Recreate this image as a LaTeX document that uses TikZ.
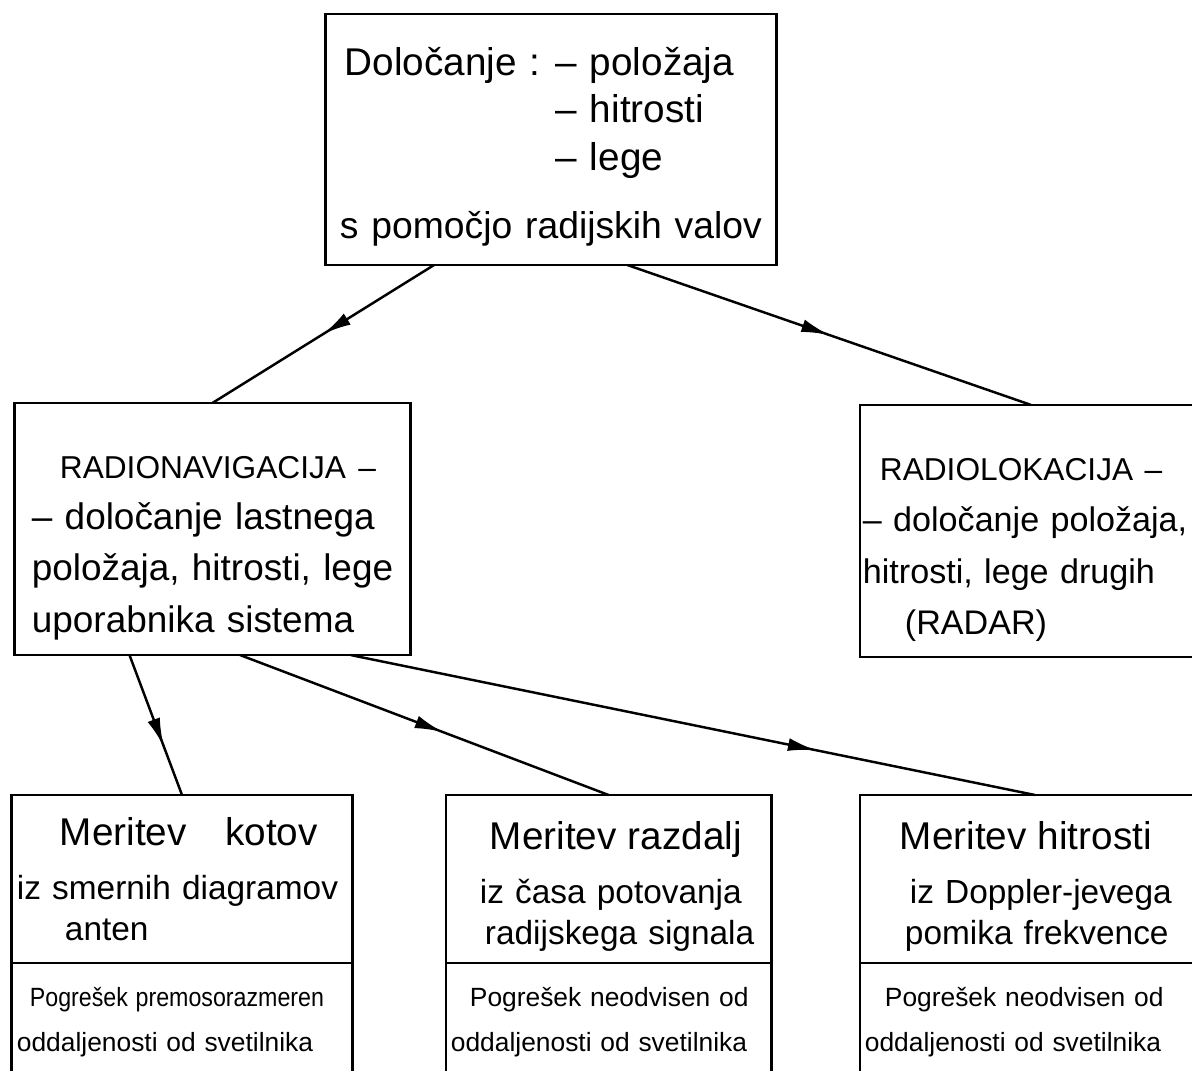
\documentclass[tikz,border=0pt]{standalone}
\usepackage{fontspec}
\setmainfont{Liberation Sans}
\usepackage{graphicx}
\usetikzlibrary{positioning}
\usetikzlibrary{arrows.meta}
\usetikzlibrary{calc}
\usetikzlibrary{math}
\usetikzlibrary{decorations.markings}

\begin{document}
\begin{tikzpicture}[x=0.01cm,y=-0.01cm,line width=0.8pt,
  box/.style={draw, outer sep=0pt, inner xsep=0.5mm, inner ysep=1mm, align=left},
  midarrow/.style={line width=0.7pt, postaction={decorate},
    decoration={markings,
      mark=at position #1 with {\arrow{Latex[length=2.8mm,width=1.3mm]}}}},
  midarrow/.default=0.5]

  \tikzmath{
    \titleh = 1.68; % height of the upper part of a method box
    \errh   = 1.18; % height of the lower part (error)
  }

  % visible part of the sheet
  \clip (0,0) rectangle (1192,1070);

  % Top box
  \node[box, text width=4.4cm, minimum height=2.51cm,
        font=\fontsize{11}{13.5}\selectfont] (dol) at (551,139.5)
  {\hspace*{1.4mm}\begin{tabular}{@{}l@{\hspace{1.5mm}}l@{}}
     \rule{0pt}{14pt}Določanje : & -- položaja\\
                 & -- hitrosti\\
                 & -- lege\\[6pt]
     \multicolumn{2}{@{\hspace{-0.5mm}}l@{}}{\fontsize{10.6}{13}\selectfont
       s pomočjo radijskih valov}
   \end{tabular}};

  % Second level
  \node[box, text width=3.85cm, minimum height=2.52cm,
        font=\fontsize{10.5}{14.6}\selectfont] (nav) at (212.5,529)
  {\rule{0pt}{17pt}\hspace*{4mm}{\fontsize{9}{15}\selectfont RADIONAVIGACIJA~--}\\
   \hspace*{1.2mm}-- določanje lastnega\\
   \hspace*{1.2mm}položaja, hitrosti, lege\\
   \hspace*{1.2mm}uporabnika sistema};

  \node[box, inner xsep=0.3mm, text width=3.74cm, minimum height=2.52cm,
        font=\fontsize{9.7}{14.6}\selectfont] (lok) at (1050,531)
  {\rule{0pt}{17pt}\hspace*{1.7mm}{\fontsize{9}{15}\selectfont RADIOLOKACIJA~--}\\
   -- določanje položaja,\\
   hitrosti, lege drugih\\
   \hspace*{4.2mm}(RADAR)};

  % Methods, upper part
  \node[box, text width=3.30cm, minimum height=\titleh cm,
        font=\fontsize{9.5}{11.5}\selectfont] (kot) at (182,879)
  {\hspace*{4.3mm}{\fontsize{11}{12}\selectfont Meritev\quad kotov}\\[4pt]
   iz smernih diagramov\\
   \hspace*{4.8mm}anten};

  \node[box, text width=3.15cm, minimum height=\titleh cm,
        font=\fontsize{9.5}{11.5}\selectfont] (raz) at (608.5,879)
  {\rule{0pt}{12pt}\hspace*{3.9mm}{\fontsize{11}{12}\selectfont Meritev razdalj}\\[4pt]
   \hspace*{2.9mm}iz časa potovanja\\
   \hspace*{3.4mm}radijskega signala};

  \node[box, text width=3.7cm, minimum height=\titleh cm,
        font=\fontsize{9.5}{11.5}\selectfont] (hit) at (1050,879)
  {\rule{0pt}{12pt}\hspace*{3.5mm}{\fontsize{11}{12}\selectfont Meritev hitrosti}\\[4pt]
   \hspace*{4.5mm}iz Doppler-jevega\\
   \hspace*{4mm}pomika frekvence};

  % Methods, lower part (error)
  \node[box, text width=3.30cm, minimum height=\errh cm,
        font=\fontsize{7.5}{12.8}\selectfont, below=0pt of kot] (kotp)
  {\hspace*{1.3mm}\scalebox{0.88}[1]{Pogrešek premosorazmeren}\\
   oddaljenosti od svetilnika};

  \node[box, text width=3.15cm, minimum height=\errh cm,
        font=\fontsize{7.5}{12.8}\selectfont, below=0pt of raz] (razp)
  {\hspace*{1.9mm}Pogrešek neodvisen od\\
   oddaljenosti od svetilnika};

  \node[box, text width=3.7cm, minimum height=\errh cm,
        font=\fontsize{7.5}{12.8}\selectfont, below=0pt of hit] (hitp)
  {\hspace*{2mm}Pogrešek neodvisen od\\
   oddaljenosti od svetilnika};

  % Connectors
  \draw[midarrow] ($(dol.south west)!0.24!(dol.south east)$) -- (nav.north);
  \draw[midarrow] ($(dol.south west)!0.67!(dol.south east)$)
    -- ($(lok.north west)!0.45!(lok.north east)$);

  \draw[midarrow=0.65] ($(nav.south west)!0.29!(nav.south east)$) -- (kot.north);
  \draw[midarrow=0.55] ($(nav.south west)!0.57!(nav.south east)$) -- (raz.north);
  \draw[midarrow=0.68] ($(nav.south west)!0.85!(nav.south east)$)
    -- ($(hit.north west)!0.46!(hit.north east)$);

\end{tikzpicture}
\end{document}
